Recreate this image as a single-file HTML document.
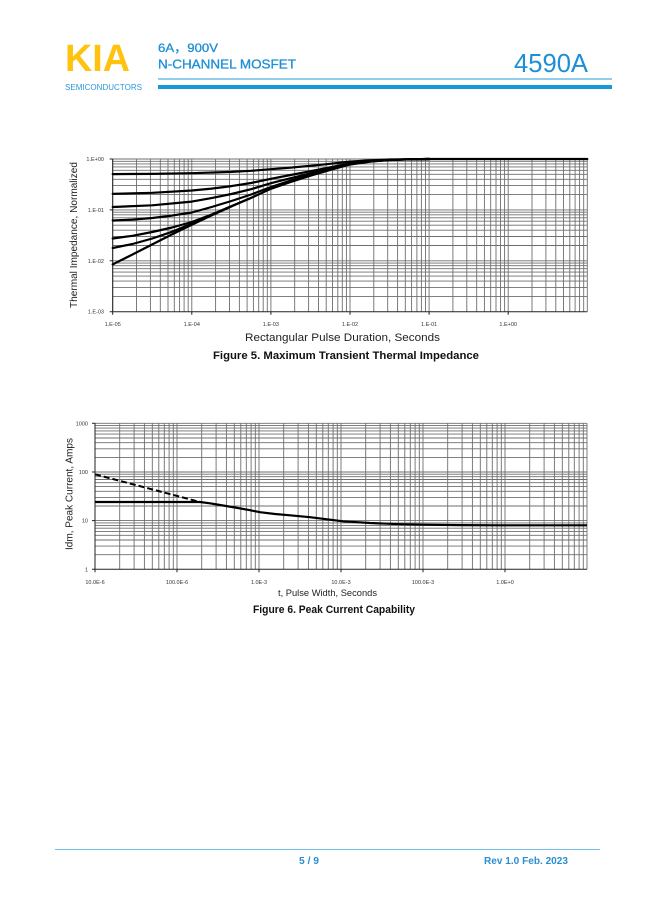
<!DOCTYPE html>
<html><head><meta charset="utf-8"><style>
html,body{margin:0;padding:0;background:#fff;}
svg{display:block;}
text{font-family:"Liberation Sans","Noto Sans CJK SC",sans-serif;}
</style></head><body>
<svg width="649" height="917" viewBox="0 0 649 917" xmlns="http://www.w3.org/2000/svg">
<rect width="649" height="917" fill="#fff"/>
<!-- Header -->
<text x="65" y="71" font-size="38" font-weight="bold" fill="#FFC20E" textLength="65" lengthAdjust="spacingAndGlyphs">KIA</text>
<text x="65" y="90" font-size="8" fill="#2a9ad8" textLength="77" lengthAdjust="spacingAndGlyphs">SEMICONDUCTORS</text>
<text x="158" y="52" font-size="12" fill="#1d8fd6" stroke="#1d8fd6" stroke-width="0.3" textLength="60" lengthAdjust="spacingAndGlyphs">6A，900V</text>
<text x="158" y="68.5" font-size="12.5" fill="#1d8fd6" stroke="#1d8fd6" stroke-width="0.3" textLength="138" lengthAdjust="spacingAndGlyphs">N-CHANNEL MOSFET</text>
<text x="514" y="72" font-size="26" fill="#1d8fd6" textLength="74" lengthAdjust="spacingAndGlyphs">4590A</text>
<line x1="158" y1="79" x2="612" y2="79" stroke="#2a9ad8" stroke-width="1"/>
<rect x="158" y="85" width="454" height="4" fill="#159ad6"/>

<!-- Chart 1 grid -->
<g stroke="#6e6e6e" stroke-width="0.9" fill="none">
<path d="M112.7 159V311.7M136.5 159V311.7M150.4 159V311.7M160.3 159V311.7M168.0 159V311.7M174.3 159V311.7M179.6 159V311.7M184.1 159V311.7M188.2 159V311.7
M191.8 159V311.7M215.6 159V311.7M229.5 159V311.7M239.4 159V311.7M247.1 159V311.7M253.4 159V311.7M258.7 159V311.7M263.2 159V311.7M267.3 159V311.7
M270.9 159V311.7M294.7 159V311.7M308.6 159V311.7M318.5 159V311.7M326.2 159V311.7M332.5 159V311.7M337.8 159V311.7M342.3 159V311.7M346.4 159V311.7
M350.0 159V311.7M373.8 159V311.7M387.7 159V311.7M397.6 159V311.7M405.3 159V311.7M411.6 159V311.7M416.9 159V311.7M421.4 159V311.7M425.5 159V311.7
M429.1 159V311.7M452.9 159V311.7M466.8 159V311.7M476.7 159V311.7M484.4 159V311.7M490.7 159V311.7M496.0 159V311.7M500.5 159V311.7M504.6 159V311.7
M508.2 159V311.7M532.0 159V311.7M545.9 159V311.7M555.8 159V311.7M563.5 159V311.7M569.8 159V311.7M575.1 159V311.7M579.6 159V311.7M583.7 159V311.7M587.3 159V311.7"/>
<path d="M112.7 296.4H587.3M112.7 287.4H587.3M112.7 281.1H587.3M112.7 276.1H587.3M112.7 272.1H587.3M112.7 268.7H587.3M112.7 265.7H587.3M112.7 263.1H587.3
M112.7 260.8H587.3M112.7 245.5H587.3M112.7 236.5H587.3M112.7 230.2H587.3M112.7 225.2H587.3M112.7 221.2H587.3M112.7 217.8H587.3M112.7 214.8H587.3M112.7 212.2H587.3
M112.7 209.9H587.3M112.7 194.6H587.3M112.7 185.6H587.3M112.7 179.3H587.3M112.7 174.3H587.3M112.7 170.3H587.3M112.7 166.9H587.3M112.7 163.9H587.3M112.7 161.3H587.3
M112.7 159H587.3"/>
</g>
<g stroke="#222" stroke-width="1" fill="none">
<path d="M112.7 159V311.7H587.3"/>
<path d="M112.7 311.7v3M191.8 311.7v3M270.9 311.7v3M350.0 311.7v3M429.1 311.7v3M508.2 311.7v3M109.7 159h3M109.7 209.9h3M109.7 260.8h3M109.7 311.7h3"/>
</g>
<!-- Chart 1 curves -->
<g stroke="#000" stroke-width="2.2" fill="none" stroke-linejoin="round" stroke-linecap="round">
<polyline points="112.7,264.4 132.5,254.5 152.3,244.4 172.0,234.4 191.8,224.8 211.6,215.4 231.4,206.4 251.1,197.9 270.9,188.8 290.7,181.9 310.5,175.7 330.2,169.9 350.0,164.5 369.8,161.6 389.6,160.0 409.3,159.3 429.1,159.0 587.3,159.0"/>
<polyline points="112.7,174.1 152.3,173.9 191.8,173.2 231.4,171.9 251.1,170.8 270.9,169.2 290.7,167.6 310.5,165.8 330.2,163.8 350.0,161.6 369.8,160.3 389.6,159.5 409.3,159.2 429.1,159"/>
<polyline points="112.7,193.8 152.3,192.8 191.8,190.5 211.6,188.6 231.4,186.1 251.1,183.0 270.9,178.8 290.7,175.0 310.5,171.2 330.2,167.3 350.0,163.3 369.8,161.0 389.6,159.8 409.3,159.3 429.1,159"/>
<polyline points="112.7,207.0 152.3,205.3 191.8,201.6 211.6,198.1 231.4,194.0 251.1,189.2 270.9,183.2 290.7,178.2 310.5,173.3 330.2,168.6 350.0,163.9 369.8,161.3 389.6,159.9 409.3,159.3 429.1,159"/>
<polyline points="112.7,220.5 132.5,219.6 152.3,218.0 172.0,215.6 191.8,212.5 211.6,207.0 231.4,201.0 251.1,194.5 270.9,187.0 290.7,180.5 310.5,174.8 330.2,169.4 350.0,164.3 369.8,161.5 389.6,160.0 409.3,159.3 429.1,159"/>
<polyline points="112.7,238.5 132.5,235.8 152.3,232.0 172.0,227.5 191.8,222.0 211.6,214.5 231.4,206.2 251.1,197.9"/>
<polyline points="112.7,248.0 132.5,244.0 152.3,238.5 172.0,231.8 191.8,223.6 211.6,215.2 231.4,206.4"/>
</g>
<!-- Chart 1 labels -->
<g font-size="5.5" fill="#333">
<text x="104" y="161" text-anchor="end">1.E+00</text>
<text x="104" y="212" text-anchor="end">1.E-01</text>
<text x="104" y="263" text-anchor="end">1.E-02</text>
<text x="104" y="313.7" text-anchor="end">1.E-03</text>
<g text-anchor="middle">
<text x="112.7" y="326">1.E-05</text>
<text x="191.8" y="326">1.E-04</text>
<text x="270.9" y="326">1.E-03</text>
<text x="350.0" y="326">1.E-02</text>
<text x="429.1" y="326">1.E-01</text>
<text x="508.2" y="326">1.E+00</text>
</g>
</g>
<text transform="translate(77,235) rotate(-90)" font-size="10" fill="#222" text-anchor="middle" textLength="146" lengthAdjust="spacingAndGlyphs">Thermal Impedance, Normalized</text>
<text x="245" y="341" font-size="11" fill="#222" textLength="195" lengthAdjust="spacingAndGlyphs">Rectangular Pulse Duration, Seconds</text>
<text x="213" y="359" font-size="11" font-weight="bold" fill="#111" textLength="266" lengthAdjust="spacingAndGlyphs">Figure 5. Maximum Transient Thermal Impedance</text>

<!-- Chart 2 grid -->
<g stroke="#6e6e6e" stroke-width="0.9" fill="none">
<path d="M95 423.3V569.3M119.7 423.3V569.3M134.1 423.3V569.3M144.4 423.3V569.3M152.3 423.3V569.3M158.8 423.3V569.3M164.3 423.3V569.3M169.1 423.3V569.3M173.3 423.3V569.3
M177 423.3V569.3M201.7 423.3V569.3M216.1 423.3V569.3M226.4 423.3V569.3M234.3 423.3V569.3M240.8 423.3V569.3M246.3 423.3V569.3M251.1 423.3V569.3M255.3 423.3V569.3
M259 423.3V569.3M283.7 423.3V569.3M298.1 423.3V569.3M308.4 423.3V569.3M316.3 423.3V569.3M322.8 423.3V569.3M328.3 423.3V569.3M333.1 423.3V569.3M337.3 423.3V569.3
M341 423.3V569.3M365.7 423.3V569.3M380.1 423.3V569.3M390.4 423.3V569.3M398.3 423.3V569.3M404.8 423.3V569.3M410.3 423.3V569.3M415.1 423.3V569.3M419.3 423.3V569.3
M423 423.3V569.3M447.7 423.3V569.3M462.1 423.3V569.3M472.4 423.3V569.3M480.3 423.3V569.3M486.8 423.3V569.3M492.3 423.3V569.3M497.1 423.3V569.3M501.3 423.3V569.3
M505 423.3V569.3M529.7 423.3V569.3M544.1 423.3V569.3M554.4 423.3V569.3M562.3 423.3V569.3M568.8 423.3V569.3M574.3 423.3V569.3M579.1 423.3V569.3M583.3 423.3V569.3M587 423.3V569.3"/>
<path d="M95 554.7H587M95 546.1H587M95 540.0H587M95 535.3H587M95 531.4H587M95 528.2H587M95 525.4H587M95 522.9H587
M95 520.6H587M95 506.0H587M95 497.4H587M95 491.3H587M95 486.6H587M95 482.7H587M95 479.5H587M95 476.7H587M95 474.2H587
M95 472.0H587M95 457.4H587M95 448.8H587M95 442.7H587M95 438.0H587M95 434.1H587M95 430.9H587M95 428.1H587M95 425.6H587
M95 423.3H587"/>
</g>
<g stroke="#222" stroke-width="1" fill="none">
<path d="M95 423.3V569.3H587"/>
<path d="M95 569.3v3M177 569.3v3M259 569.3v3M341 569.3v3M423 569.3v3M505 569.3v3M92 423.3h3M92 472h3M92 520.6h3M92 569.3h3"/>
</g>
<!-- Chart 2 curves -->
<polyline points="95,474.3 200,502" stroke="#000" stroke-width="2" fill="none" stroke-dasharray="6 3"/>
<polyline points="95,502 200,502 210,503.3 220,505 235,507.5 250,510.2 260,512.2 275,514 290,515.3 310,517.2 323,518.8 343,521.3 370,523 400,524.2 423,524.7 460,525.1 500,525.3 587,525.3" stroke="#000" stroke-width="2.2" fill="none" stroke-linejoin="round"/>
<!-- Chart 2 labels -->
<g font-size="5.5" fill="#333">
<text x="88" y="425.3" text-anchor="end">1000</text>
<text x="88" y="474" text-anchor="end">100</text>
<text x="88" y="522.6" text-anchor="end">10</text>
<text x="88" y="571.3" text-anchor="end">1</text>
<g text-anchor="middle">
<text x="95" y="584">10.0E-6</text>
<text x="177" y="584">100.0E-6</text>
<text x="259" y="584">1.0E-3</text>
<text x="341" y="584">10.0E-3</text>
<text x="423" y="584">100.0E-3</text>
<text x="505" y="584">1.0E+0</text>
</g>
</g>
<text transform="translate(72.5,494) rotate(-90)" font-size="10" fill="#222" text-anchor="middle" textLength="112" lengthAdjust="spacingAndGlyphs">Idm, Peak Current, Amps</text>
<text x="278" y="596" font-size="9.5" fill="#222" textLength="99" lengthAdjust="spacingAndGlyphs">t, Pulse Width, Seconds</text>
<text x="253" y="613" font-size="11" font-weight="bold" fill="#111" textLength="162" lengthAdjust="spacingAndGlyphs">Figure 6. Peak Current Capability</text>

<!-- Footer -->
<line x1="55" y1="849.5" x2="600" y2="849.5" stroke="#6cc0ea" stroke-width="1"/>
<text x="299" y="864" font-size="10" font-weight="bold" fill="#2a8fd0" textLength="20" lengthAdjust="spacingAndGlyphs">5 / 9</text>
<text x="484" y="864" font-size="10" font-weight="bold" fill="#2a8fd0" textLength="84" lengthAdjust="spacingAndGlyphs">Rev 1.0 Feb. 2023</text>
</svg>
</body></html>
